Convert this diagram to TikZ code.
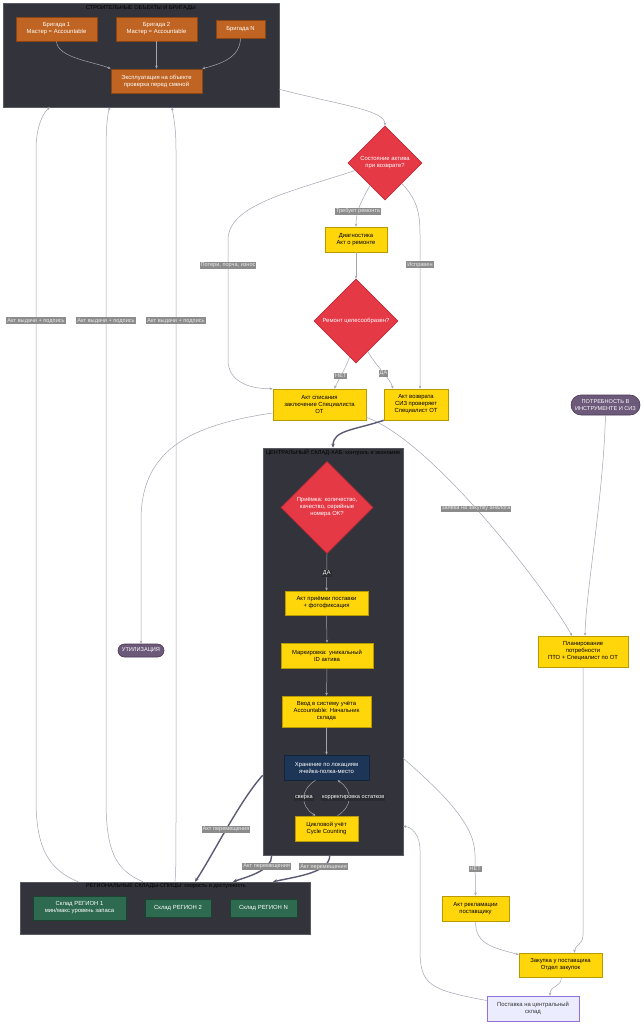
\documentclass[tikz,border=0pt]{standalone}
\usepackage{fontspec}
\newfontfamily\dgff{Liberation Sans}
\newcommand\dgfont{\dgff\fontsize{5.9}{7}\selectfont}
\newcommand\dglfont{\dgff\fontsize{5.6}{6.4}\selectfont}
\usetikzlibrary{shapes.geometric,shapes.misc,arrows.meta,calc}
\definecolor{clF}{HTML}{33333B}
\definecolor{clB}{HTML}{5A5A62}
\definecolor{orF}{HTML}{BF6422}
\definecolor{orB}{HTML}{8A4513}
\definecolor{rdF}{HTML}{E63946}
\definecolor{rdB}{HTML}{C42A37}
\definecolor{yeF}{HTML}{FFD60A}
\definecolor{yeB}{HTML}{B89A00}
\definecolor{nvF}{HTML}{1D3557}
\definecolor{nvB}{HTML}{14243D}
\definecolor{gnF}{HTML}{2D6A4F}
\definecolor{gnB}{HTML}{1B4332}
\definecolor{puF}{HTML}{6D597A}
\definecolor{puB}{HTML}{4A3B55}
\definecolor{lvF}{HTML}{ECECFF}
\definecolor{lvB}{HTML}{9370DB}
\definecolor{edC}{HTML}{A4A4B4}
\definecolor{thC}{HTML}{5A5A75}
\definecolor{lbF}{HTML}{8C8C8C}
\definecolor{lbD}{HTML}{2A2A31}
\tikzset{
  base/.style={align=center, inner sep=0pt, font=\dgfont, line width=0.6pt},
  sz/.style 2 args={minimum width=#1, minimum height=#2},
  cluster/.style={draw=clB, fill=clF, line width=0.6pt, inner sep=0pt},
  cltitle/.style={font=\dglfont, text=black, inner sep=0pt},
  orbox/.style={base, draw=orB, fill=orF, text=white},
  yebox/.style={base, draw=yeB, fill=yeF, text=black},
  nvbox/.style={base, draw=nvB, fill=nvF, text=white},
  gnbox/.style={base, draw=gnB, fill=gnF, text=white},
  lvbox/.style={base, draw=lvB, fill=lvF, text={black!80}},
  pill/.style={base, font=\dglfont, rounded rectangle, draw=puB, fill=puF, text=white},
  dec/.style={base, diamond, aspect=1, draw=rdB, fill=rdF, text=white},
  edge/.style={draw=edC, line width=0.5pt, -{Stealth[length=3pt,width=2.6pt]}},
  thick/.style={draw=thC, line width=1.4pt, -{Stealth[length=4pt,width=3.5pt]}},
  lbl/.style={font=\dglfont, fill=lbF, text={white!92!black}, inner sep=1pt},
  lbld/.style={font=\dglfont, fill=lbD, text=white, inner sep=1pt},
}
\begin{document}
\begin{tikzpicture}[x=1pt,y=-1pt]
\useasboundingbox (0,0) rectangle (643,1024);
\fill[white] (0,0) rectangle (643,1024);

% clusters
\node[cluster, sz={276}{104}] (constr) at (141,55) {};
\node[cltitle] (constrT) at (141,8) {СТРОИТЕЛЬНЫЕ ОБЪЕКТЫ И БРИГАДЫ};
\node[cluster, sz={140}{407}] (central) at (333,651.5) {};
\node[cltitle] (centralT) at (333,453) {ЦЕНТРАЛЬНЫЙ СКЛАД-ХАБ: контроль и экономия};
\node[cluster, sz={290}{52}] (regional) at (165,908) {};
\node[cltitle] (regionalT) at (166,886) {РЕГИОНАЛЬНЫЕ СКЛАДЫ-СПИЦЫ: скорость и доступность};

% construction nodes
\node[orbox, sz={81}{24}] (b1) at (56.5,29) {Бригада 1\\Мастер = Accountable};
\node[orbox, sz={81}{24}] (b2) at (156.5,29) {Бригада 2\\Мастер = Accountable};
\node[orbox, sz={49}{18}] (bn) at (240.5,29) {Бригада N};
\node[orbox, sz={91}{24}] (expl) at (156.5,81) {Эксплуатация на объекте\\проверка перед сменой};

% return flow
\node[dec, minimum width=74, minimum height=74] (d1) at (385,163) {Состояние актива\\при возврате?};
\node[yebox, sz={62}{25}] (diag) at (356,239.5) {Диагностика\\Акт о ремонте};
\node[dec, minimum width=84, minimum height=84] (d2) at (356,321) {Ремонт целесообразен?};
\node[yebox, sz={93}{31}] (spis) at (319.5,404.5) {Акт списания\\заключение Специалиста\\ОТ};
\node[yebox, sz={64}{31}] (vozv) at (416,404.5) {Акт возврата\\СИЗ проверяет\\Специалист ОТ};
\node[pill, sz={46}{13}] (util) at (141,650.5) {УТИЛИЗАЦИЯ};

% central
\node[dec, minimum width=92, minimum height=92] (d3) at (327,507.5) {Приёмка: количество,\\качество, серийные\\номера ОК?};
\node[yebox, sz={83}{24}] (priem) at (326.5,603) {Акт приёмки поставки\\+ фотофиксация};
\node[yebox, sz={92}{25}] (mark) at (327,655.5) {Маркировка: уникальный\\ID актива};
\node[yebox, sz={89}{31}] (vvod) at (326.5,711.5) {Ввод в систему учёта\\Accountable: Начальник\\склада};
\node[nvbox, sz={85}{25}] (hran) at (326.5,767.5) {Хранение по локациям\\ячейка-полка-место};
\node[yebox, sz={63}{25}] (cycle) at (326.5,828.5) {Цикловой учёт\\Cycle Counting};

% planning / purchase
\node[pill, sz={69}{20}] (need) at (605.5,405) {ПОТРЕБНОСТЬ В\\ИНСТРУМЕНТЕ И СИЗ};
\node[yebox, sz={90}{31}] (plan) at (583,651.5) {Планирование\\потребности\\ПТО + Специалист по ОТ};
\node[yebox, sz={67}{25}] (recl) at (475.5,908.5) {Акт рекламации\\поставщику};
\node[yebox, sz={83}{24}] (zak) at (560.5,965) {Закупка у поставщика\\Отдел закупок};
\node[lvbox, sz={92}{25}] (post) at (533,1008.5) {Поставка на центральный\\склад};

% regional
\node[gnbox, sz={93}{24}] (r1) at (79.5,908) {Склад РЕГИОН 1\\мин/макс уровень запаса};
\node[gnbox, sz={66}{18}] (r2) at (178,908) {Склад РЕГИОН 2};
\node[gnbox, sz={67}{18}] (rn) at (263.5,908) {Склад РЕГИОН N};

% edges: construction
\draw[edge] (b1.south) .. controls (57,58) and (95,62) .. (expl.north west);
\draw[edge] (b2.south) -- (expl.north);
\draw[edge] (bn.south) .. controls (240,58) and (220,64) .. (expl.north east);
\draw[edge] ([yshift=18pt]constr.south east) .. controls (340,105) and (385,110) .. (d1.north);

% edges: return flow
\draw[edge] ($(d1.west)!0.6!(d1.south)$) .. controls (362,200) and (356,210) .. node[lbl, pos=0.65] {Требует ремонта} (diag.north);
\draw[edge] ($(d1.south)!0.45!(d1.east)$) .. controls (418,200) and (420,215) .. (420,235) -- node[lbl, pos=0.195] {Исправен} ([xshift=4pt]vozv.north);
\draw[edge] ($(d1.west)!0.2!(d1.south)$) .. controls (290,192) and (228,205) .. (228,240) -- node[lbl, pos=0.21] {Потери, порча, износ} (228,360) .. controls (228,382) and (250,389) .. (spis.north west);
\draw[edge] (diag.south) -- (d2.north);
\draw[edge] ($(d2.west)!0.85!(d2.south)$) .. controls (345,370) and (338,380) .. node[lbl, pos=0.55] {НЕТ} ([xshift=15pt]spis.north);
\draw[edge] ($(d2.south)!0.28!(d2.east)$) .. controls (375,365) and (390,378) .. node[lbl, pos=0.55] {ДА} ([xshift=-23pt]vozv.north);
\draw[edge] ([yshift=-8.5pt]spis.west) .. controls (190,425) and (141,450) .. (141,520) -- (util.north);
\draw[edge] ([yshift=3pt]spis.south east) .. controls (430,440) and (540,580) .. node[lbl, pos=0.48] {заявка на закупку аналога} ([xshift=-11pt]plan.north);
\draw[thick] (vozv.south west) .. controls (355,430) and (333,430) .. (central.north);

% edges: planning / purchase
\draw[edge] (need.south) .. controls (603,500) and (586,590) .. ([xshift=2pt]plan.north);
\draw[edge] (plan.south) -- (583,935) .. controls (583,945) and (574.5,945) .. ([xshift=14pt]zak.north);
\draw[edge] (recl.south) .. controls (475,945) and (495,948) .. ([yshift=-2pt]zak.north west);
\draw[edge] ([xshift=1pt]zak.south) .. controls (561,988) and (550,985) .. ([xshift=17pt]post.north);
\draw[edge] ([yshift=8pt]post.west) .. controls (430,990) and (420,985) .. (420,950) -- (420,850) .. controls (420,835) and (412,827) .. ([yshift=29pt]central.south east);

% edges: central
\draw[edge] (d3.south) -- node[lbld, pos=0.53] {ДА} (priem.north);
\draw[edge] ([yshift=97pt]central.south east) .. controls (445,795) and (475,825) .. (475,855) -- node[lbl, pos=0.34] {НЕТ} (recl.north);
\draw[edge] (priem.south) -- (mark.north);
\draw[edge] (mark.south) -- (vvod.north);
\draw[edge] (vvod.south) -- (hran.north);
\draw[edge] ([xshift=-11pt]hran.south) .. controls (300,790) and (300,806) .. node[lbld, pos=0.5] {сверка} ([xshift=-11pt]cycle.north);
\draw[edge] ([xshift=11pt]cycle.north) .. controls (353,806) and (353,790) .. node[lbld, pos=0.5, xshift=4pt] {корректировка остатков} ([xshift=11pt]hran.south);

% edges: central -> regional
\draw[thick] ([yshift=80pt]central.south west) .. controls (240,800) and (210,860) .. node[lbl, pos=0.5] {Акт перемещения} ([xshift=30pt]regional.north);
\draw[thick] ([xshift=9pt]central.south west) .. controls (272,870) and (250,876) .. node[lbl, pos=0.3] {Акт перемещения} ([xshift=68pt]regional.north);
\draw[thick] ([xshift=67pt]central.south west) .. controls (330,872) and (300,876) .. node[lbl, pos=0.28] {Акт перемещения} ([xshift=108pt]regional.north);

% edges: regional -> construction
\draw[edge] ([xshift=-87pt]regional.north) .. controls (50,870) and (36,850) .. (36,800) -- node[lbl, pos=0.737] {Акт выдачи + подпись} (36,150) .. controls (36,125) and (44,112) .. ([xshift=-91pt]constr.south);
\draw[edge] ([xshift=-22pt]regional.north) .. controls (115,870) and (106,850) .. (106,800) -- node[lbl, pos=0.737] {Акт выдачи + подпись} (106,150) .. controls (106,125) and (108,112) .. ([xshift=-31pt]constr.south);
\draw[edge] ([xshift=10pt]regional.north) .. controls (176,870) and (176,860) .. (176,800) -- node[lbl, pos=0.737] {Акт выдачи + подпись} (176,150) .. controls (176,125) and (173,115) .. ([xshift=31pt]constr.south);
\end{tikzpicture}
\end{document}
